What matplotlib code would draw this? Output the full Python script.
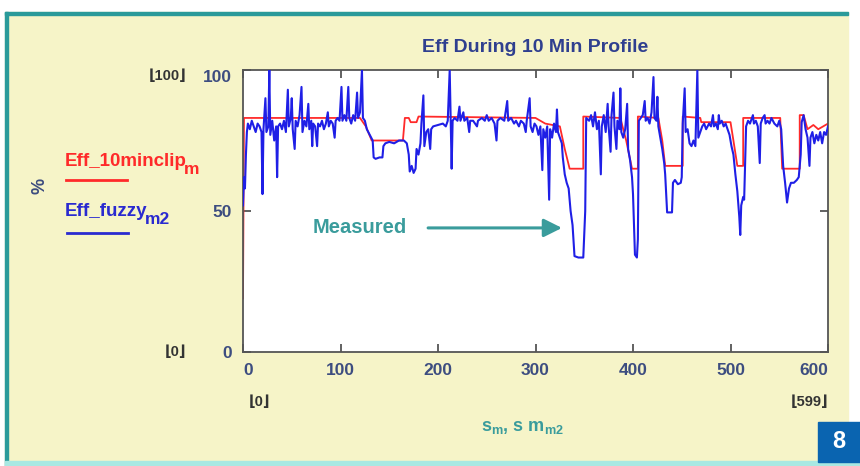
import matplotlib
matplotlib.use("Agg")
import matplotlib.pyplot as plt
from matplotlib import font_manager
from matplotlib.patches import Rectangle

# ---- data ----
t_clip = [0, 1, 60, 120, 126, 132, 164, 166, 170, 172, 178, 180, 300, 310, 325, 330, 335, 349, 349,
          387, 393, 399, 405, 405, 426, 430, 433, 451, 451, 469, 470, 500, 503, 507, 513, 513, 551,
          553, 571, 571, 575, 579, 585, 590, 600]
eff_clip = [19, 83, 83, 83, 80, 75, 75, 83, 83, 81.5, 81.5, 83.5, 83, 81, 80, 72, 65, 65, 83.5,
            83, 75, 65, 65, 83.5, 83, 75, 66, 66, 83.5, 83, 81.5, 81.5, 75, 66, 66, 83, 83,
            65, 65, 84, 84, 79, 80.5, 79, 81]

t_fuzzy = [0, 1, 2, 3, 4, 5, 7, 9, 11, 13, 15, 17, 19, 20, 21, 23, 24, 26, 27, 28, 30, 32, 34, 35,
           36, 38, 40, 42, 44, 46, 47, 49, 50, 51, 53, 54, 56, 58, 60, 61, 63, 65, 67, 68, 70, 71,
           72, 74, 76, 77, 79, 81, 83, 85, 87, 88, 90, 92, 94, 95, 97, 99, 101, 102, 104, 106, 108,
           109, 111, 113, 115, 117, 118, 120, 122, 123, 125, 127, 130, 133, 134, 136, 140, 143, 144,
           146, 150, 155, 160, 165, 168, 170, 171, 173, 175, 177, 178, 180, 182, 183, 185, 186, 188,
           190, 192, 193, 195, 200, 205, 208, 210, 212, 213, 214, 215, 217, 220, 222, 223, 226, 227,
           230, 232, 233, 236, 240, 241, 245, 248, 250, 252, 255, 258, 260, 261, 264, 268, 271, 272,
           275, 278, 280, 283, 285, 288, 290, 291, 294, 295, 297, 299, 301, 303, 305, 307, 308, 310,
           312, 314, 315, 317, 319, 321, 322, 323, 325, 327, 328, 330, 332, 334, 336, 338, 340, 344,
           349, 351, 352, 355, 357, 359, 361, 363, 365, 367, 368, 370, 372, 374, 375, 377, 378, 380,
           381, 383, 384, 386, 387, 388, 390, 392, 394, 395, 397, 399, 400, 402, 404, 405, 406, 408,
           410, 412, 413, 415, 417, 419, 421, 422, 424, 425, 426, 428, 430, 432, 433, 435, 440, 441,
           443, 446, 449, 450, 451, 453, 454, 456, 458, 460, 462, 464, 466, 467, 469, 471, 473, 475,
           478, 480, 482, 483, 485, 487, 488, 489, 491, 493, 495, 497, 499, 501, 503, 505, 507, 509,
           510, 511, 513, 514, 516, 518, 520, 523, 524, 526, 528, 530, 531, 533, 535, 536, 538, 540,
           542, 545, 548, 550, 552, 554, 556, 558, 560, 562, 565, 568, 570, 572, 573, 575, 577, 579,
           581, 582, 584, 586, 588, 590, 592, 594, 596, 598, 600]
eff_fuzzy = [52, 62, 58, 70, 78, 81, 79, 82, 80, 78, 81, 80, 78, 56, 79, 90, 78, 80, 100, 77, 82, 75,
             80, 62, 80, 81, 79, 82, 78, 93, 80, 83, 90, 79, 72, 82, 80, 84, 94, 78, 82, 80, 88, 79,
             82, 73, 81, 80, 73, 81, 80, 82, 79, 81, 85, 80, 82, 81, 76, 82, 83, 82, 94, 82, 84, 82,
             94, 83, 81, 84, 82, 92, 83, 85, 100, 83, 82, 79, 77, 75, 69, 68.5, 69, 69, 73, 74, 74.5,
             74, 75, 75, 74, 70, 64, 66, 63.5, 65, 72, 70, 74, 81, 91, 73, 78, 79, 72, 79, 80, 80.5,
             81, 80, 82, 100, 82, 65, 82, 83, 82, 87, 82, 85, 82, 83, 78, 82, 82, 80, 82, 83, 82, 84,
             82, 83, 81, 75, 82, 83, 82, 89, 82, 83, 81, 82, 80, 82, 81, 78, 82, 90, 80, 78, 81, 80,
             77, 80, 64.5, 79, 76, 80, 54, 79, 76, 81, 78, 86, 78, 76, 74, 69, 63, 60, 58, 50, 45, 34,
             33.5, 33.5, 50, 83, 82, 84, 80, 85, 79, 82, 63, 80, 84, 78, 88, 80, 71, 84, 92, 80, 72,
             82, 79, 93.5, 78, 76, 79, 88, 72, 68, 62, 56, 34.5, 33.5, 40, 82, 83, 84, 89, 82, 83, 81,
             85, 97.5, 83, 82, 90.5, 80, 76, 72, 67, 63, 49.5, 49.5, 60, 61, 59.5, 60, 62, 81, 93.5,
             78, 79, 74, 73, 75, 73, 100, 76, 78, 80, 81, 79, 81, 80, 84, 80, 81, 79, 84, 81, 82, 80,
             81, 79, 77, 73, 70, 63, 57, 48, 41.5, 52, 55, 54, 80, 82, 81, 84, 81, 82, 80, 67, 81, 83,
             84, 81, 82, 81, 83, 81, 80, 82, 79, 66, 60, 53, 58, 60, 60, 61, 62, 70, 81.5, 84, 79, 76,
             66, 76, 78, 74, 77, 75, 78, 74, 78, 77, 80]

xticks = [0, 100, 200, 300, 400, 500, 600]
yticks = [0, 50, 100]

# ---- fonts / colours ----
names = {f.name for f in font_manager.fontManager.ttflist}
fam = "Liberation Sans Narrow" if "Liberation Sans Narrow" in names else "Liberation Sans"
plt.rcParams["font.family"] = [fam, "DejaVu Sans"]
plt.rcParams["mathtext.fontset"] = "custom"
plt.rcParams["mathtext.bf"] = fam + ":bold"
plt.rcParams["mathtext.rm"] = fam

bg = "#f6f4c8"
navy = "#2f3f8f"
slate = "#3d4d80"
teal = "#3a9c9c"
red = "#ff2a2a"
blue = "#1f1fe6"

fig = plt.figure(figsize=(8.6, 4.66), dpi=100)
fig.patch.set_facecolor("white")

W, H = 860.0, 466.0
def fr(x0, y0, x1, y1, c, z=-10):
    # rectangle given in pixel coords (top-left origin)
    fig.patches.append(Rectangle((x0 / W, 1 - y1 / H), (x1 - x0) / W, (y1 - y0) / H,
                                 transform=fig.transFigure, color=c, zorder=z))

def ptxt(x, y, s, **kw):
    return fig.text(x / W, 1 - y / H, s, fontweight="bold", **kw)

fr(5, 12, 848, 466, bg)
fr(5, 12, 848, 15, "#2a9a9a")
fr(5, 12, 8, 466, "#2a9a9a")
fr(5, 461, 860, 466, "#a8e8e2")
fr(818, 422, 860, 462, "#0a64b0", z=5)
ptxt(839, 442, "8", color="white", fontsize=17, ha="center", va="center", zorder=6)

ax = fig.add_axes([243 / W, 1 - 352 / H, (828 - 243) / W, (352 - 70) / H])
ax.set_facecolor("white")
ax.plot(t_clip, eff_clip, color=red, lw=1.3, zorder=2)
ax.plot(t_fuzzy, eff_fuzzy, color=blue, lw=1.5, zorder=3)
ax.set_xlim(0, 600)
ax.set_ylim(0, 100)

for s in ax.spines.values():
    s.set_color("#555555")
    s.set_linewidth(1.3)
ax.set_xticks(xticks)
ax.set_yticks(yticks)
ax.tick_params(direction="in", length=6, width=1.3, color="#555555",
               top=True, right=True, labelsize=12.5, labelcolor=slate, pad=8)
for lab in ax.get_xticklabels() + ax.get_yticklabels():
    lab.set_fontweight("bold")
xl = ax.get_xticklabels()
xl[0].set_ha("left")
xl[-1].set_ha("right")
yl = ax.get_yticklabels()
yl[-1].set_va("top")

ax.set_title("Eff During 10 Min Profile", color=navy, fontsize=14, fontweight="bold", pad=13)

ax.annotate("", xy=(330, 44), xytext=(187, 44),
            arrowprops=dict(arrowstyle="-|>,head_length=1.1,head_width=0.55",
                            color=teal, lw=2.2))
ax.text(120, 44, "Measured", color=teal, fontsize=14.5, fontweight="bold",
        ha="center", va="center")

# legend on the left
ptxt(65, 162, "Eff_10minclip", color=red, fontsize=13.5, va="center")
ptxt(184, 170, "m", color=red, fontsize=12.5, va="center")
fig.lines.append(plt.Line2D([66 / W, 127 / W], [1 - 180 / H] * 2, color=red, lw=2,
                            transform=fig.transFigure))
ptxt(65, 212, "Eff_fuzzy", color="#2a2ad0", fontsize=13.5, va="center")
ptxt(145, 220, "m2", color="#2a2ad0", fontsize=12.5, va="center")
fig.lines.append(plt.Line2D([67 / W, 128 / W], [1 - 233 / H] * 2, color="#2a2ad0", lw=2,
                            transform=fig.transFigure))

ptxt(40, 186, "%", color=slate, fontsize=13, rotation=90, ha="center", va="center")
# x axis label: s_m, s m_m2
ptxt(522, 427, r"s$_\mathbf{m}$, s m$_\mathbf{m2}$", color=teal, fontsize=13,
     ha="center", va="center")

# Mathcad range placeholders
for x, y, s in [(168, 76, "100"), (175, 352, "0"), (259, 402, "0"), (810, 402, "599")]:
    ptxt(x, y, "\u230a" + s + "\u230b", color="#333333", fontsize=10.5, ha="center", va="center")

fig.savefig("out.png", dpi=100, facecolor=fig.get_facecolor())
